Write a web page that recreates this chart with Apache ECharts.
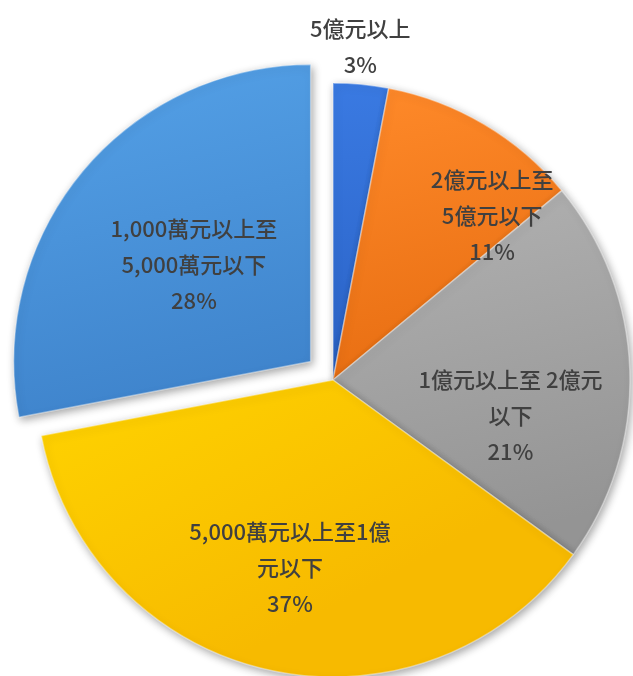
<!DOCTYPE html>
<html>
<head>
<meta charset="utf-8">
<script src="https://cdn.jsdelivr.net/npm/echarts@6/dist/echarts.min.js"></script>
<style>html,body{margin:0;padding:0;background:#fff}#c{width:633px;height:676px}</style>
</head>
<body>
<div id="c"></div>
<script>
const categories = ['5億元以上', '2億元以上至\n5億元以下', '1億元以上至 2億元\n以下', '5,000萬元以上至1億\n元以下', '1,000萬元以上至\n5,000萬元以下'];
const values = [3, 11, 21, 37, 28];
const exploded = [false, false, false, false, true];

const colors = [
  ['#3A7AE2', '#2A62C6'],
  ['#FF8A2A', '#E86E12'],
  ['#B2B2B2', '#949494'],
  ['#FFD400', '#F7BA00'],
  ['#55A2E8', '#3F84CC']
];
const labelOffsets = [[13, -183], [82, -34], [26, 40], [-10, 40], [-39, 14]];

const data = values.map((v, i) => ({
  name: categories[i],
  value: v,
  selected: exploded[i],
  itemStyle: {
    color: {
      type: 'linear', x: 0, y: 0, x2: 0.3, y2: 1,
      colorStops: [{offset: 0, color: colors[i][0]}, {offset: 1, color: colors[i][1]}]
    }
  },
  label: { offset: labelOffsets[i] }
}));

const chart = echarts.init(document.getElementById('c'), null, {renderer: 'canvas'});
chart.setOption({
  animation: false,
  backgroundColor: '#ffffff',
  series: [{
    type: 'pie',
    center: [333, 380],
    radius: 297,
    startAngle: 90,
    clockwise: true,
    selectedMode: 'multiple',
    selectedOffset: 29,
    data: data,
    itemStyle: {
      borderColor: 'rgba(255,255,255,0.4)',
      borderWidth: 1.5,
      shadowBlur: 8,
      shadowOffsetX: 2,
      shadowOffsetY: 3,
      shadowColor: 'rgba(0,0,0,0.35)'
    },
    label: {
      show: true,
      position: 'inside',
      formatter: p => p.name + '\n' + p.value + '%',
      color: '#404040',
      fontSize: 22,
      fontWeight: 500,
      lineHeight: 36,
      align: 'center',
      fontFamily: '"Noto Sans CJK TC", "Noto Sans", sans-serif'
    },
    labelLine: { show: false },
    emphasis: { disabled: true },
    select: { disabled: false, itemStyle: {} }
  }]
});
</script>
</body>
</html>
